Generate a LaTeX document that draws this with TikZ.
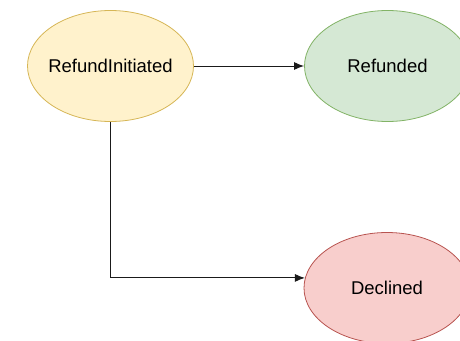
\documentclass[tikz,border=0pt]{standalone}
\usepackage{fontspec}
\setmainfont{Liberation Sans}
\usetikzlibrary{arrows.meta}
\usetikzlibrary{shapes.geometric}
\definecolor{yellowfill}{HTML}{FFF2CC}
\definecolor{yellowline}{HTML}{D6B656}
\definecolor{greenfill}{HTML}{D5E8D4}
\definecolor{greenline}{HTML}{82B366}
\definecolor{redfill}{HTML}{F8CECC}
\definecolor{redline}{HTML}{B85450}
\definecolor{arrowcol}{HTML}{1A1A1A}

\begin{document}
\begin{tikzpicture}[>= {Latex[length=10pt,width=8pt]}, x=1pt, y=-1pt,
    state/.style={ellipse, draw, line width=0.8pt, minimum width=166pt, minimum height=111pt, inner xsep=-12pt, inner ysep=0pt, font=\fontsize{18.5}{22}\selectfont},
    edge/.style={->, draw=arrowcol, line width=1pt}]
         \useasboundingbox (0,0) rectangle (460,340);
         \node[state, fill=yellowfill, draw=yellowline] (initiated) at (110.5,66) {RefundInitiated};
         \node[state, fill=greenfill, draw=greenline] (refunded) at (387.5,66) {Refunded};
         \node[state, fill=redfill, draw=redline] (declined) at (387,288) {Declined};
         \draw[edge] (initiated) -- (refunded);
         \draw[edge] (initiated.south) |- (declined.173);
        \end{tikzpicture}
\end{document}
